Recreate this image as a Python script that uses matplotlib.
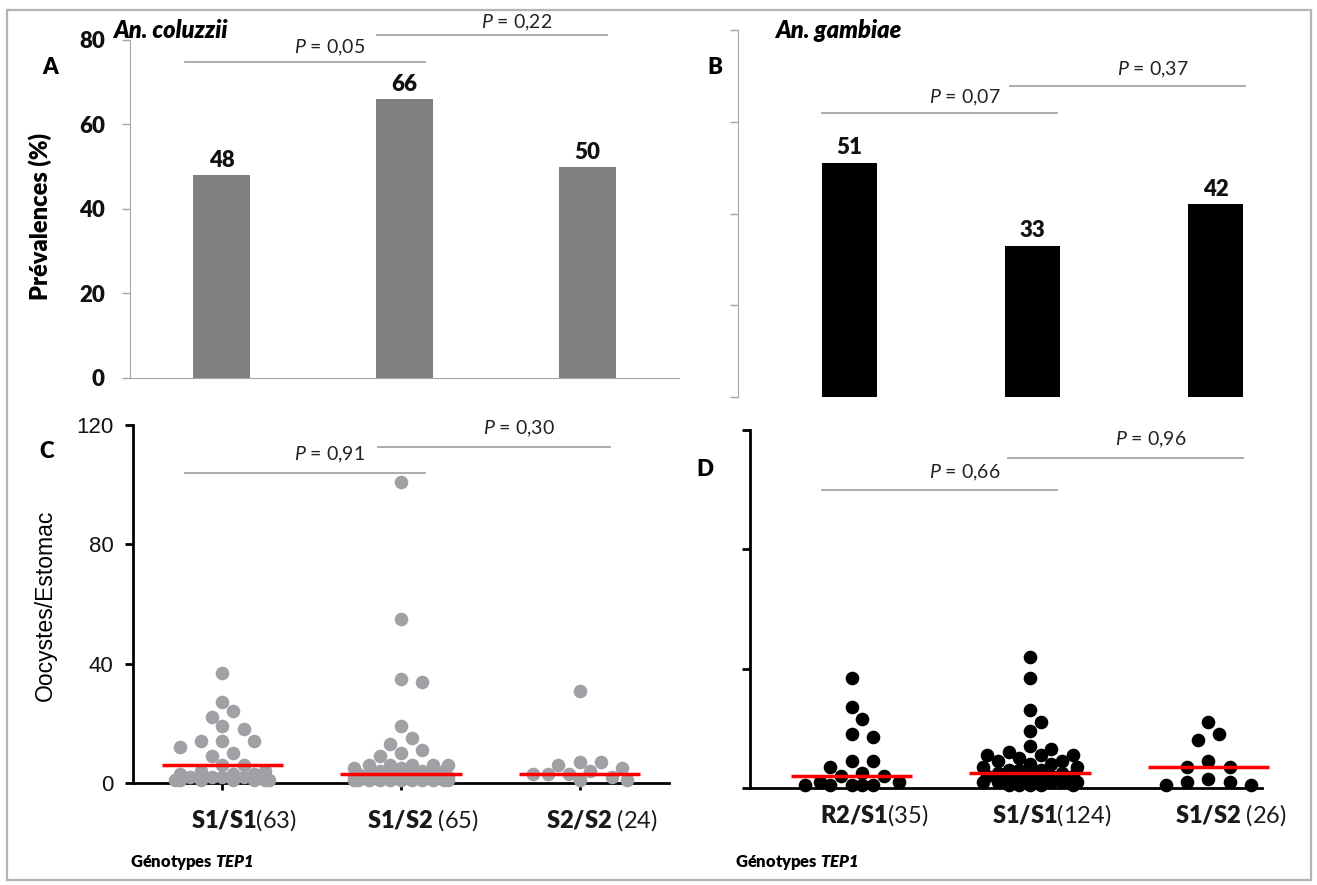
import numpy as np
import matplotlib
matplotlib.use("Agg")
import matplotlib.pyplot as plt
from matplotlib.lines import Line2D
from matplotlib.patches import Rectangle

plt.rcParams["font.family"] = ["Lato", "DejaVu Sans"]
plt.rcParams["mathtext.fontset"] = "custom"
plt.rcParams["mathtext.rm"] = "Lato"
plt.rcParams["mathtext.it"] = "Lato:italic"
plt.rcParams["mathtext.bf"] = "Lato:heavy"
plt.rcParams["mathtext.bfit"] = "Lato:italic:heavy"

# ---- data -------------------------------------------------------------
genotypes_col = ["S1/S1", "S1/S2", "S2/S2"]
counts_col = [63, 65, 24]
genotypes_gam = ["R2/S1", "S1/S1", "S1/S2"]
counts_gam = [35, 124, 26]

# infection prevalence (%)
prev_col = [48, 66, 50]
prev_gam = [51, 33, 42]

# oocysts per midgut in infected females
ooc_col_s1s1 = [37, 27, 24, 22, 19, 18, 14, 14, 14, 12, 10, 9, 6, 6,
                4, 4, 3, 3, 3, 2, 2, 2, 2, 1, 1, 1, 1, 1, 1, 1]
ooc_col_s1s2 = [101, 55, 35, 34, 19, 15, 13, 11, 10, 9, 6, 6, 6, 6, 6,
                5, 5, 4, 4, 4, 4, 3, 3, 3, 3, 3, 2, 2, 2, 2, 2, 2,
                1, 1, 1, 1, 1, 1, 1, 1, 1, 1, 1]
ooc_col_s2s2 = [31, 7, 7, 6, 5, 4, 3, 3, 3, 2, 1, 1]

ooc_gam_r2s1 = [37, 27, 23, 18, 17, 9, 9, 7, 5, 4, 4, 2, 2, 1, 1, 1, 1, 1]
ooc_gam_s1s1 = [44, 37, 26, 22, 19, 14, 13, 12, 11, 11, 11, 10, 9, 9, 8, 8,
                7, 7, 6, 6, 6, 5, 5, 5, 4, 4, 4, 3, 3, 3, 3, 2, 2, 2, 2, 2,
                1, 1, 1, 1, 1]
ooc_gam_s1s2 = [22, 18, 16, 9, 7, 7, 3, 2, 2, 1, 1]

median_col = [6, 3, 3]
median_gam = [4, 5, 7]

pvals_col_prev = ["0,05", "0,22"]
pvals_gam_prev = ["0,07", "0,37"]
pvals_col_ooc = ["0,91", "0,30"]
pvals_gam_ooc = ["0,66", "0,96"]

# ---- figure -----------------------------------------------------------
W, H = 1317, 885
fig = plt.figure(figsize=(W / 100, H / 100), dpi=100)


def add_ax(l, t, r, b):
    return fig.add_axes([l / W, 1 - b / H, (r - l) / W, (b - t) / H])


def ftext(x, y, s, **kw):
    return fig.text(x / W, 1 - y / H, s, **kw)


def fline(x0, x1, y, **kw):
    fig.add_artist(Line2D([x0 / W, x1 / W], [1 - y / H, 1 - y / H],
                          transform=fig.transFigure, **kw))


def bracket(x0, x1, y, p, ty):
    fline(x0, x1, y, color="#a6a6a6", lw=1.3)
    ftext((x0 + x1) / 2 + 25, ty, r"$P$ = " + p, ha="center", va="center",
          fontsize=14, color="#222222")


# outer frame
fig.add_artist(Rectangle((7 / W, 1 - 880 / H), 1304 / W, 870 / H,
                         transform=fig.transFigure, fill=False,
                         ec="#b4b4b4", lw=1.6))

# ---- bar panels -------------------------------------------------------
AX_GREY = "#a6a6a6"
YT_BAR = [0, 20, 40, 60, 80]


def bar_panel(ax, vals, color, width, show_labels):
    x = np.arange(len(vals))
    ax.bar(x, vals, width=width, color=color, zorder=2)
    for xi, v in zip(x, vals):
        ax.text(xi, v + 1.0, str(v), ha="center", va="bottom",
                fontsize=16, fontweight="heavy", color="#111111")
    ax.set_ylim(0, 80)
    if show_labels:
        ax.set_yticks(YT_BAR, labels=[str(t) for t in YT_BAR],
                      fontsize=16, fontweight="heavy", color="#111111")
    else:
        ax.set_yticks(YT_BAR, labels=[])
    ax.set_xticks([])
    for s in ("top", "right"):
        ax.spines[s].set_visible(False)
    ax.spines["left"].set_color(AX_GREY)
    ax.spines["bottom"].set_color(AX_GREY)
    ax.tick_params(axis="y", length=6, width=1, color=AX_GREY, pad=12)


axA = add_ax(130, 40, 679, 378)
axA.set_xlim(-0.5, 2.5)
bar_panel(axA, prev_col, "#808080", 0.31, True)

axB = add_ax(738, 30, 1287, 397)
axB.set_xlim(-0.61, 2.39)
bar_panel(axB, prev_gam, "#000000", 0.30, False)
axB.spines["bottom"].set_visible(False)

# ---- dot plots --------------------------------------------------------


def swarm_offsets(values, px_x, px_y, diam=13.3, step=10.7, max_off=47.0):
    """Beeswarm layout in pixel space, capped at +/- max_off pixels."""
    vals = np.asarray(values, dtype=float)
    order = np.argsort(-vals, kind="stable")
    n_steps = int(max_off // step)
    cands = [0.0]
    for k in range(1, n_steps + 1):
        cands += [k * step, -k * step]
    cands += [max_off, -max_off]
    placed = []
    offs = np.zeros(len(vals))
    for i in order:
        y = vals[i] * px_y
        best, best_d = 0.0, -1.0
        for x in cands:
            if placed:
                arr = np.array(placed)
                d = np.min(np.hypot(arr[:, 0] - x, arr[:, 1] - y))
            else:
                d = np.inf
            if d >= diam:
                best = x
                break
            if d > best_d:
                best_d, best = d, x
        placed.append((best, y))
        offs[i] = best / px_x
    return offs


def dot_panel(ax, groups, medians, color, rect, xlim, xticks_on, ylabels):
    ax.set_xlim(*xlim)
    ax.set_ylim(0, 120)
    l, t, r, b = rect
    px_x = (r - l) / (xlim[1] - xlim[0])
    px_y = (b - t) / 120.0
    for gi, vals in enumerate(groups):
        offs = swarm_offsets(vals, px_x, px_y)
        ax.scatter(gi + offs, vals, s=96, color=color, lw=0,
                   zorder=3, clip_on=False)
        ax.plot([gi - 0.34, gi + 0.34], [medians[gi]] * 2, color="#ff0000",
                lw=2.5, zorder=4, solid_capstyle="butt", clip_on=False)
    for s in ("top", "right"):
        ax.spines[s].set_visible(False)
    for s in ("left", "bottom"):
        ax.spines[s].set_linewidth(2)
        ax.spines[s].set_color("black")
    yt = [0, 40, 80, 120]
    if ylabels:
        ax.set_yticks(yt, labels=[str(v) for v in yt], fontsize=16,
                      family="Liberation Sans", color="#111111")
    else:
        ax.set_yticks(yt, labels=[])
    ax.tick_params(axis="y", length=6, width=2, pad=8)
    if xticks_on:
        ax.set_xticks(range(len(groups)), labels=[])
        ax.tick_params(axis="x", length=5, width=2)
    else:
        ax.set_xticks([])


rectC = (133, 425, 669, 783)
axC = add_ax(*rectC)
dot_panel(axC, [ooc_col_s1s1, ooc_col_s1s2, ooc_col_s2s2], median_col,
          "#a0a0a5", rectC, (-0.5, 2.5), True, True)

rectD = (750, 430, 1262, 788)
axD = add_ax(*rectD)
dot_panel(axD, [ooc_gam_r2s1, ooc_gam_s1s1, ooc_gam_s1s2], median_gam,
          "#000000", rectD, (-0.57, 2.30), False, False)


def genotype_labels(ax, names, counts, dy):
    for i, (nm, n) in enumerate(zip(names, counts)):
        gap = "" if nm in ("S1/S1", "R2/S1") else " "
        ax.annotate(r"$\mathbf{" + nm + "}$" + gap + f"({n})",
                    xy=(i, 0), xycoords=("data", "axes fraction"),
                    xytext=(22, -dy), textcoords="offset pixels",
                    ha="center", va="center", fontsize=17,
                    color="#1a1a1a", annotation_clip=False)


genotype_labels(axC, genotypes_col, counts_col, 37)
genotype_labels(axD, genotypes_gam, counts_gam, 27)

# ---- titles, axis titles, panel letters ------------------------------
ftext(113, 30, "An. coluzzii", fontsize=17, fontweight="heavy",
      fontstyle="italic", va="center", ha="left")
ftext(775, 30, "An. gambiae", fontsize=17, fontweight="heavy",
      fontstyle="italic", va="center", ha="left")
ftext(40, 216, "Prévalences (%)", fontsize=17, fontweight="heavy",
      rotation=90, va="center", ha="center")
ftext(45, 605, "Oocystes/Estomac", fontsize=16.5, rotation=90,
      va="center", ha="center", family="Liberation Sans")
for xx in (130, 735):
    ftext(xx, 862, r"Génotypes $\mathbfit{TEP1}$", fontsize=12,
          fontweight="heavy", va="center", ha="left")
for letter, (xx, yy) in {"A": (50, 68), "B": (715, 68),
                         "C": (47, 452), "D": (705, 470)}.items():
    ftext(xx, yy, letter, fontsize=16, fontweight="heavy",
          va="center", ha="center")

# ---- significance brackets -------------------------------------------
bracket(185, 425, 62, pvals_col_prev[0], 48)
bracket(377, 607, 35, pvals_col_prev[1], 23)
bracket(822, 1057, 113, pvals_gam_prev[0], 98)
bracket(1010, 1245, 86, pvals_gam_prev[1], 70)
bracket(185, 425, 473, pvals_col_ooc[0], 455)
bracket(378, 610, 447, pvals_col_ooc[1], 429)
bracket(822, 1057, 490, pvals_gam_ooc[0], 473)
bracket(1008, 1243, 458, pvals_gam_ooc[1], 440)

fig.savefig("out.png", dpi=100)
